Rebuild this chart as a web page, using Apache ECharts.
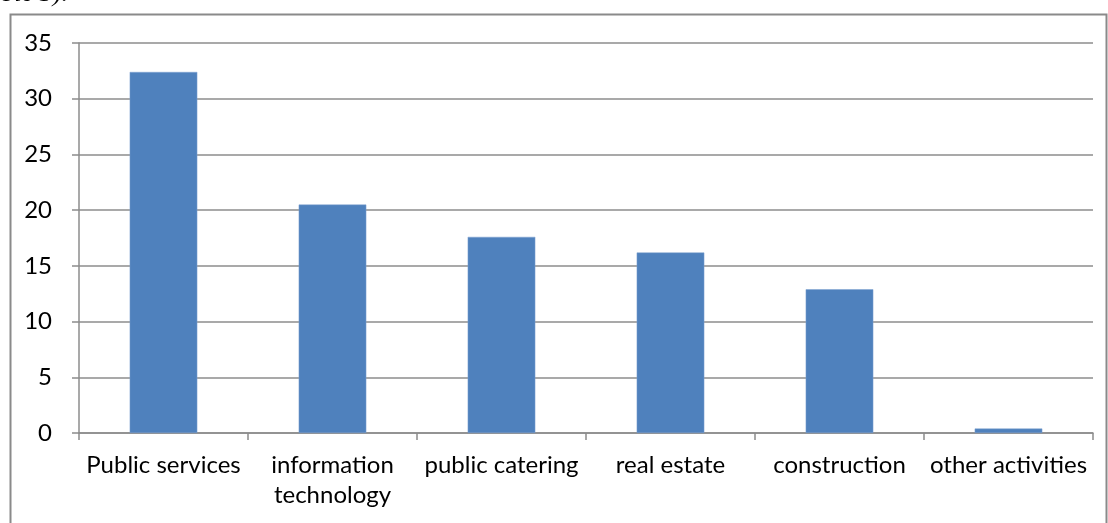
<!DOCTYPE html>
<html>
<head>
<meta charset="utf-8">
<style>
  html, body { margin: 0; padding: 0; background: #ffffff; }
  #chart { width: 1108px; height: 523px; }
</style>
<script src="https://cdn.jsdelivr.net/npm/echarts@6/dist/echarts.min.js"></script>
</head>
<body>
<div id="chart"></div>
<script>
// Share of activity by sector
const categories = ['Public services', 'information\ntechnology', 'public catering', 'real estate', 'construction', 'other activities'];
const values = [32.4, 20.5, 17.6, 16.2, 12.9, 0.4];
const yTicks = [0, 5, 10, 15, 20, 25, 30, 35];

const labelFont = 'Lato, "Open Sans", sans-serif';
const chart = echarts.init(document.getElementById('chart'), null, { renderer: 'canvas' });

chart.setOption({
  animation: false,
  backgroundColor: '#ffffff',
  graphic: [
    {
      type: 'rect',
      shape: { x: 10.5, y: 14.5, width: 1096, height: 540 },
      style: { fill: 'none', stroke: '#8a8a8a', lineWidth: 2 },
      silent: true
    },
    {
      type: 'text',
      x: 68, y: 7,
      style: {
        text: 'table 3).',
        font: 'italic 26px "Liberation Serif", serif',
        fill: '#000000',
        align: 'right',
        verticalAlign: 'bottom'
      },
      silent: true
    }
  ],
  grid: { left: 79, right: 15, top: 43, bottom: 90, containLabel: false },
  xAxis: {
    type: 'category',
    data: categories,
    axisLine: { show: true, lineStyle: { color: '#8c8c8c', width: 1.5 } },
    axisTick: { show: true, alignWithLabel: false, length: 7, lineStyle: { color: '#8c8c8c', width: 1.5 } },
    axisLabel: {
      color: '#000000',
      fontFamily: labelFont,
      fontSize: 24,
      margin: 17,
      lineHeight: 30,
      interval: 0
    },
    splitLine: { show: false }
  },
  yAxis: {
    type: 'value',
    min: yTicks[0],
    max: yTicks[yTicks.length - 1],
    interval: 5,
    axisLine: { show: true, lineStyle: { color: '#8c8c8c', width: 1.5 } },
    axisTick: { show: true, length: 7, lineStyle: { color: '#8c8c8c', width: 1.5 } },
    axisLabel: {
      color: '#000000',
      fontFamily: labelFont,
      fontSize: 24,
      margin: 27
    },
    splitLine: { show: true, lineStyle: { color: '#8c8c8c', width: 1.5 } }
  },
  series: [{
    type: 'bar',
    data: values,
    barWidth: '40%',
    itemStyle: { color: '#4f81bd', borderColor: '#7ea3d1', borderWidth: 0.5 }
  }]
});
</script>
</body>
</html>
